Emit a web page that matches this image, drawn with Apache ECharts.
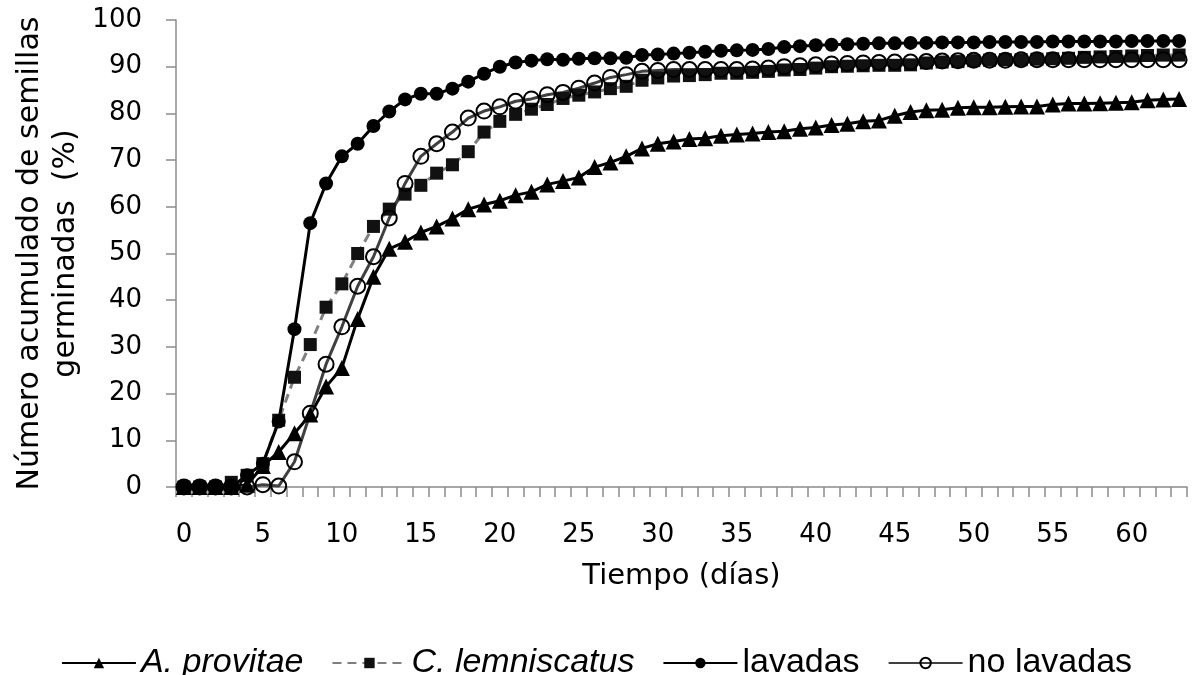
<!DOCTYPE html>
<html>
<head>
<meta charset="utf-8">
<script src="https://cdn.jsdelivr.net/npm/echarts@6/dist/echarts.min.js"></script>
<style>html,body{margin:0;padding:0;background:#fff}#c{width:1193px;height:675px}</style>
</head>
<body>
<div id="c"></div>
<script>
const days = [0,1,2,3,4,5,6,7,8,9,10,11,12,13,14,15,16,17,18,19,20,21,22,23,24,25,26,27,28,29,30,31,32,33,34,35,36,37,38,39,40,41,42,43,44,45,46,47,48,49,50,51,52,53,54,55,56,57,58,59,60,61,62,63];
const seriesNames = ['A. provitae', 'C. lemniscatus', 'lavadas', 'no lavadas'];
const aProvitae = [0,0,0,0,0.5,4.5,7.5,11.5,15.5,21.5,25.5,36,45,51,52.5,54.5,55.8,57.5,59.5,60.5,61.3,62.5,63.2,64.8,65.5,66.3,68.5,69.5,70.8,72.5,73.5,74,74.5,74.7,75.2,75.5,75.7,76,76.2,76.7,77,77.5,77.8,78.3,78.5,79.5,80.3,80.7,80.8,81.2,81.3,81.3,81.4,81.5,81.5,81.9,82.1,82.1,82.2,82.3,82.4,82.8,83,83.1];
const cLemniscatus = [0,0,0,1,2.5,5,14.3,23.5,30.5,38.5,43.5,50,55.8,59.5,62.7,64.6,67.2,69,71.8,76,78.3,79.8,80.9,81.9,83.2,83.9,84.6,85.3,85.8,87.1,87.6,88,88.1,88.3,88.6,88.6,88.8,89,89.3,89.4,89.7,90,90.1,90.2,90.3,90.3,90.4,90.8,91,91.1,91.3,91.4,91.5,91.5,91.6,91.7,91.8,92,92.1,92.2,92.3,92.4,92.5,92.5];
const lavadas = [0,0,0,0,2.5,5,14,33.8,56.5,65,70.8,73.5,77.3,80.4,83,84.2,84.2,85.3,86.8,88.5,90,90.9,91.3,91.6,91.5,91.7,91.8,91.8,91.9,92.5,92.6,92.8,93,93.2,93.4,93.5,93.6,93.8,94.2,94.4,94.6,94.7,94.8,94.9,95,95,95.1,95.1,95.2,95.2,95.2,95.3,95.3,95.3,95.3,95.4,95.4,95.4,95.4,95.4,95.5,95.5,95.5,95.5];
const noLavadas = [0,0,0,0,0,0.5,0.2,5.4,15.8,26.3,34.3,43,49.3,57.6,65,70.8,73.5,76,79,80.5,81.4,82.6,83.1,84,84.5,85.4,86.5,87.7,88.3,89,89.2,89.4,89.4,89.4,89.4,89.4,89.5,89.7,90,90.2,90.4,90.6,90.7,90.8,90.9,91,91,91.1,91.2,91.3,91.4,91.4,91.4,91.5,91.5,91.5,91.5,91.5,91.5,91.5,91.5,91.5,91.5,91.5];
const yTicks = {min: 0, max: 100, interval: 10};
const xTitle = 'Tiempo (días)';
const yTitle = 'Número acumulado de semillas\ngerminadas  (%)';

const chart = echarts.init(document.getElementById('c'), null, {renderer: 'canvas'});
const tickFont = 'DejaVu Sans';
const axisGray = '#8c8c8c';
chart.setOption({
  animation: false,
  backgroundColor: '#fff',
  grid: {left: 176, right: 6, top: 20, bottom: 188, containLabel: false, outerBoundsMode: 'none'},
  legend: {
    data: seriesNames,
    left: 'center',
    top: 641,
    itemWidth: 74,
    itemHeight: 13,
    itemGap: 28,
    textStyle: {fontFamily: 'Liberation Sans', fontSize: 34, color: '#000',
      rich: {i: {fontFamily: 'Liberation Sans', fontSize: 34, fontStyle: 'italic', color: '#000'},
             n: {fontFamily: 'Liberation Sans', fontSize: 34, color: '#000'}}},
    formatter: function (name) {
      return (name === 'A. provitae' || name === 'C. lemniscatus') ? '{i|' + name + '}' : '{n|' + name + '}';
    }
  },
  xAxis: {
    type: 'category',
    data: days,
    boundaryGap: true,
    name: xTitle,
    nameLocation: 'middle',
    nameGap: 75,
    nameMoveOverlap: false,
    nameTextStyle: {fontFamily: tickFont, fontSize: 29, color: '#000'},
    axisLine: {show: true, lineStyle: {color: axisGray, width: 1.5}},
    axisTick: {show: true, interval: 0, length: 10, lineStyle: {color: axisGray, width: 1.5}},
    axisLabel: {interval: 4, margin: 35, fontFamily: tickFont, fontSize: 26, color: '#000'},
    splitLine: {show: false}
  },
  yAxis: {
    type: 'value',
    min: yTicks.min, max: yTicks.max, interval: yTicks.interval,
    name: yTitle,
    nameLocation: 'middle',
    nameGap: 92,
    nameMoveOverlap: false,
    nameTextStyle: {fontFamily: tickFont, fontSize: 30, color: '#000', lineHeight: 36, align: 'center'},
    axisLine: {show: true, lineStyle: {color: axisGray, width: 1.5}},
    axisTick: {show: true, length: 10, lineStyle: {color: axisGray, width: 1.5}},
    axisLabel: {margin: 34, fontFamily: tickFont, fontSize: 26, color: '#000'},
    splitLine: {show: false}
  },
  series: [
    {name: seriesNames[0], type: 'line', data: aProvitae, symbol: 'triangle', symbolSize: 16, showAllSymbol: true,
     itemStyle: {color: '#000'}, lineStyle: {color: '#000', width: 3}},
    {name: seriesNames[1], type: 'line', data: cLemniscatus, symbol: 'rect', symbolSize: 13, showAllSymbol: true,
     itemStyle: {color: '#111'}, lineStyle: {color: '#7f7f7f', width: 3, type: [9, 6]}},
    {name: seriesNames[2], type: 'line', data: lavadas, symbol: 'circle', symbolSize: 14, showAllSymbol: true,
     itemStyle: {color: '#000'}, lineStyle: {color: '#000', width: 3}},
    {name: seriesNames[3], type: 'line', data: noLavadas, symbol: 'circle', symbolSize: 15, showAllSymbol: true,
     itemStyle: {color: 'rgba(255,255,255,0)', borderColor: '#000', borderWidth: 2}, lineStyle: {color: '#404040', width: 3}}
  ]
});
</script>
</body>
</html>
